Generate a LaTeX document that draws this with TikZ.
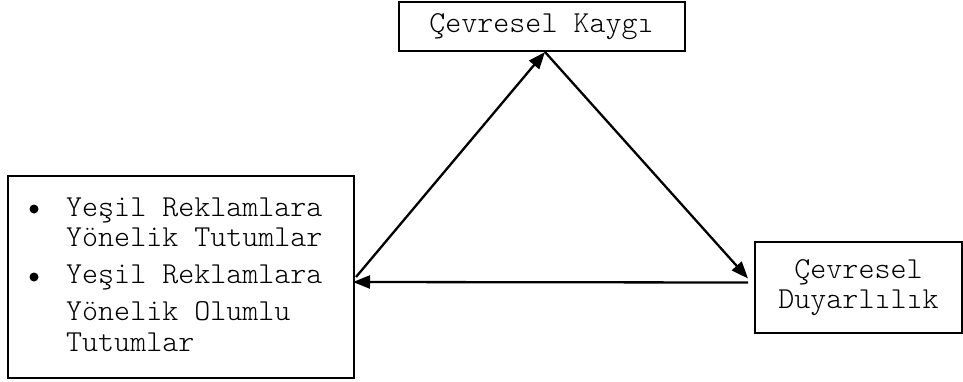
\documentclass[tikz,border=0pt]{standalone}
\usepackage{fontspec}
\setmonofont{Latin Modern Mono Light}
\usetikzlibrary{arrows.meta,calc}
\begin{document}
\begin{tikzpicture}[x=1pt,y=-1pt,
  txt/.style={font=\ttfamily\fontsize{30.5}{31}\selectfont},
  box/.style={draw,line width=2pt,inner sep=0pt,txt},
  line/.style={anchor=base west,inner sep=0pt,txt},
  dot/.style={circle,fill,inner sep=0pt,minimum size=9pt},
  conn/.style={line width=2.3pt,-{Triangle[length=17pt,width=13pt]}}]
\useasboundingbox (0,0) rectangle (963,381);
\node[box,minimum width=286pt,minimum height=49pt] (top) at (541.5,26.5) {Çevresel Kaygı};
\node[box,minimum width=346pt,minimum height=202pt] (left) at (181,277) {};
\node[box,minimum width=207pt,minimum height=91pt,align=center] (right) at (858.5,287.5) {Çevresel\\[-1pt]Duyarlılık};
\node[dot] (b1) at (34,209) {};
\node[line] (l1) at (66,216) {Yeşil Reklamlara};
\node[line] (l2) at (66,246) {Yönelik Tutumlar};
\node[dot] (b2) at (34,277) {};
\node[line] (l3) at (66,283) {Yeşil Reklamlara};
\node[line] (l4) at (66,320) {Yönelik Olumlu};
\node[line] (l5) at (66,351) {Tutumlar};
\coordinate (apex) at ($(top.south)+(3.5,0)$);
\coordinate (lp) at ($(left.east)+(1,0)$);
\coordinate (rp) at ($(right.west)+(-6,-9)$);
\coordinate (rh) at ($(right.west)+(-6,-5)$);
\coordinate (lh) at ($(left.east)+(-2,5)$);
\draw[conn] (lp) -- (apex);
\draw[conn] (apex) -- (rp);
\draw[conn] (rh) -- (lh);
\end{tikzpicture}
\end{document}
